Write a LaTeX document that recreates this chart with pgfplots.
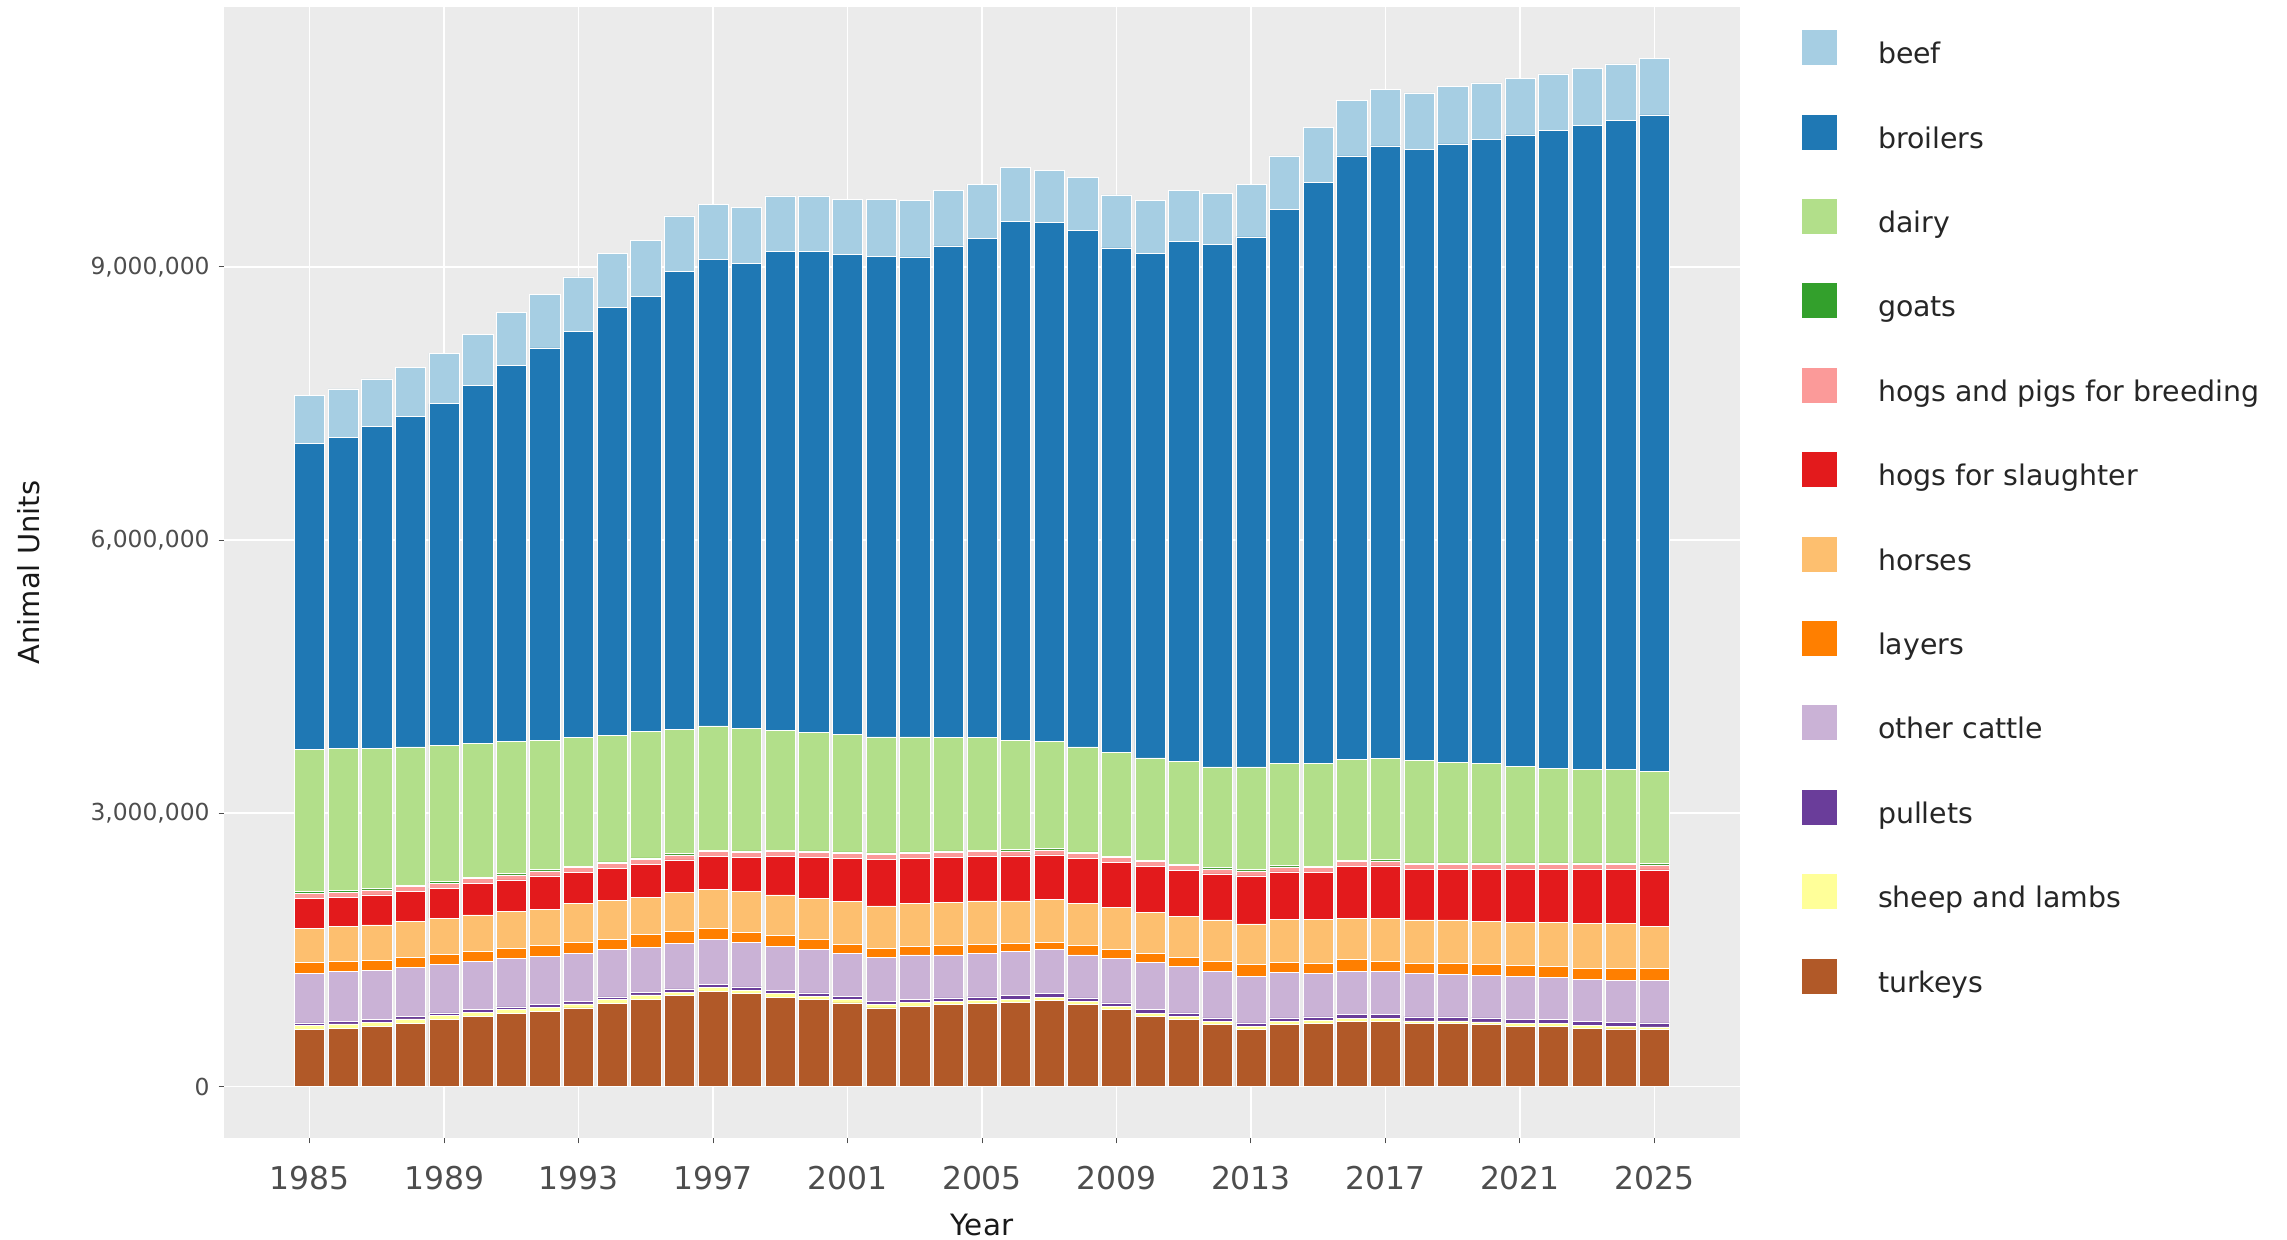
\documentclass[border=0pt]{standalone}
\usepackage{pgfplots}
\pgfplotsset{compat=1.18}
\usepackage{pgfplotstable}
\usepackage{fontspec}
\setmainfont{DejaVu Sans}

\definecolor{panel}{HTML}{EBEBEB}
\definecolor{cbeef}{HTML}{A6CEE3}
\definecolor{cbroilers}{HTML}{1F78B4}
\definecolor{cdairy}{HTML}{B2DF8A}
\definecolor{cgoats}{HTML}{33A02C}
\definecolor{chogbr}{HTML}{FB9A99}
\definecolor{chogsl}{HTML}{E31A1C}
\definecolor{chorses}{HTML}{FDBF6F}
\definecolor{clayers}{HTML}{FF7F00}
\definecolor{ccattle}{HTML}{CAB2D6}
\definecolor{cpullets}{HTML}{6A3D9A}
\definecolor{csheep}{HTML}{FFFF99}
\definecolor{cturkeys}{HTML}{B15928}
\definecolor{tickgrey}{HTML}{4D4D4D}

% animal units, in thousands
\pgfplotstableread{
year turkeys sheep pullets cattle layers horses hogsl hogbr goats dairy broilers beef
1985 625 45 30 547 116 377 329 55 15 1561 3365 525
1986 643 45 30 547 109 384 322 55 15 1560 3420 530
1987 662 45 30 539 106 394 329 55 15 1535 3540 520
1988 698 45 30 536 109 395 329 55 15 1518 3630 540
1989 735 45 30 528 110 401 330 55 15 1501 3750 550
1990 771 45 30 528 110 402 341 55 15 1473 3930 560
1991 801 45 30 535 110 401 348 55 15 1450 4130 580
1992 826 45 30 528 117 402 366 55 15 1416 4310 590
1993 863 45 30 528 117 431 336 55 15 1410 4460 600
1994 910 45 30 517 118 423 355 55 15 1392 4700 590
1995 961 45 30 496 135 413 362 55 15 1388 4780 610
1996 998 40 35 495 136 427 358 55 15 1361 5030 610
1997 1046 40 35 491 128 427 359 55 15 1364 5120 610
1998 1020 40 35 488 110 449 376 55 15 1342 5110 610
1999 983 40 35 481 117 449 421 55 15 1314 5260 610
2000 954 40 35 473 110 457 449 55 15 1302 5280 610
2001 918 40 35 473 91 475 475 55 15 1293 5270 600
2002 863 40 35 484 99 464 511 55 15 1274 5280 620
2003 881 40 35 491 92 475 493 55 15 1263 5270 620
2004 899 40 35 473 99 475 497 55 15 1242 5400 610
2005 910 40 35 473 99 482 487 55 15 1234 5480 600
2006 925 35 40 484 91 464 494 55 15 1197 5700 590
2007 946 35 40 481 81 475 486 55 15 1176 5700 570
2008 899 35 40 473 99 468 493 55 15 1153 5670 580
2009 844 35 40 492 91 468 489 55 15 1141 5540 580
2010 771 35 40 517 95 453 505 55 15 1124 5540 580
2011 735 35 40 509 103 445 505 55 15 1128 5710 560
2012 680 35 40 510 109 457 505 55 15 1104 5740 560
2013 625 35 40 510 128 449 527 55 15 1126 5820 580
2014 680 35 40 495 110 475 522 55 15 1118 6085 590
2015 691 35 40 481 102 490 511 55 15 1130 6380 600
2016 716 30 45 474 128 456 567 55 15 1104 6630 610
2017 716 30 45 474 109 475 574 55 15 1107 6730 620
2018 691 30 45 473 117 475 556 55 15 1123 6710 620
2019 691 30 45 462 121 482 556 55 15 1103 6790 630
2020 680 30 45 462 121 475 574 55 15 1093 6850 620
2021 662 30 45 473 117 475 585 55 15 1063 6930 620
2022 662 30 45 466 116 483 585 55 15 1033 7010 620
2023 643 30 45 463 120 494 592 55 15 1023 7070 630
2024 633 30 45 458 135 494 592 55 15 1023 7130 620
2025 625 30 45 466 135 457 621 55 15 1011 7210 620
}\aunits

\begin{document}
\begin{tikzpicture}
\useasboundingbox (0pt,0pt) rectangle (1143.5pt,620pt);
\begin{axis}[
    at={(112pt,51pt)}, anchor=south west,
    scale only axis, width=758pt, height=565.5pt,
    ybar stacked, bar width=0.9, bar shift=0pt,
    xmin=1982.455, xmax=2027.545,
    ymin=-564.5, ymax=11854.5,
    scaled y ticks=false, scaled x ticks=false,
    axis background/.style={fill=panel},
    axis line style={draw=none},
    grid=major,
    major grid style={white, line width=0.9pt},
    tick align=outside, tick pos=left,
    major tick length=2.75pt,
    tick style={tickgrey, line width=0.5pt},
    xtick={1985,1989,1993,1997,2001,2005,2009,2013,2017,2021,2025},
    xticklabels={1985,1989,1993,1997,2001,2005,2009,2013,2017,2021,2025},
    ytick={0,3000,6000,9000},
    yticklabels={0,{3,000,000},{6,000,000},{9,000,000}},
    xticklabel style={anchor=north, inner sep=0pt, yshift=-11pt,
        font=\fontsize{15.7}{18}\selectfont, text=tickgrey},
    yticklabel style={anchor=east, inner sep=0pt, xshift=-4.25pt,
        font=\fontsize{11.7}{14}\selectfont, text=tickgrey},
    xlabel={Year}, ylabel={Animal Units},
    xlabel style={at={(axis description cs:0.5,-0.0766)}, anchor=center,
        font=\fontsize{14.7}{17}\selectfont, text=black!90},
    ylabel style={at={(axis description cs:-0.1286,0.5)}, anchor=center,
        font=\fontsize{14.5}{17}\selectfont, text=black!90},
    legend style={at={(1.0409,0.9795)}, anchor=north west,
        draw=none, fill=none, inner sep=0pt, outer sep=0pt,
        /tikz/row sep=20.7pt, /tikz/column sep=20.5pt,
        font=\fontsize{14.2}{17}\selectfont, text=black!85,
        nodes={inner sep=0pt, text height=12.75pt, text depth=4.75pt}},
    legend cell align=left,
    legend image code/.code={\fill[#1,draw=none] (0pt,-4.75pt) rectangle (17.5pt,12.75pt);},
    reverse legend,
    every axis plot/.append style={draw=white, line width=0.3pt},
]
\addplot[fill=cturkeys] table[x=year,y=turkeys]{\aunits};
\addlegendentry{turkeys}
\addplot[fill=csheep] table[x=year,y=sheep]{\aunits};
\addlegendentry{sheep and lambs}
\addplot[fill=cpullets] table[x=year,y=pullets]{\aunits};
\addlegendentry{pullets}
\addplot[fill=ccattle] table[x=year,y=cattle]{\aunits};
\addlegendentry{other cattle}
\addplot[fill=clayers] table[x=year,y=layers]{\aunits};
\addlegendentry{layers}
\addplot[fill=chorses] table[x=year,y=horses]{\aunits};
\addlegendentry{horses}
\addplot[fill=chogsl] table[x=year,y=hogsl]{\aunits};
\addlegendentry{hogs for slaughter}
\addplot[fill=chogbr] table[x=year,y=hogbr]{\aunits};
\addlegendentry{hogs and pigs for breeding}
\addplot[fill=cgoats] table[x=year,y=goats]{\aunits};
\addlegendentry{goats}
\addplot[fill=cdairy] table[x=year,y=dairy]{\aunits};
\addlegendentry{dairy}
\addplot[fill=cbroilers] table[x=year,y=broilers]{\aunits};
\addlegendentry{broilers}
\addplot[fill=cbeef] table[x=year,y=beef]{\aunits};
\addlegendentry{beef}
\end{axis}
\end{tikzpicture}
\end{document}
